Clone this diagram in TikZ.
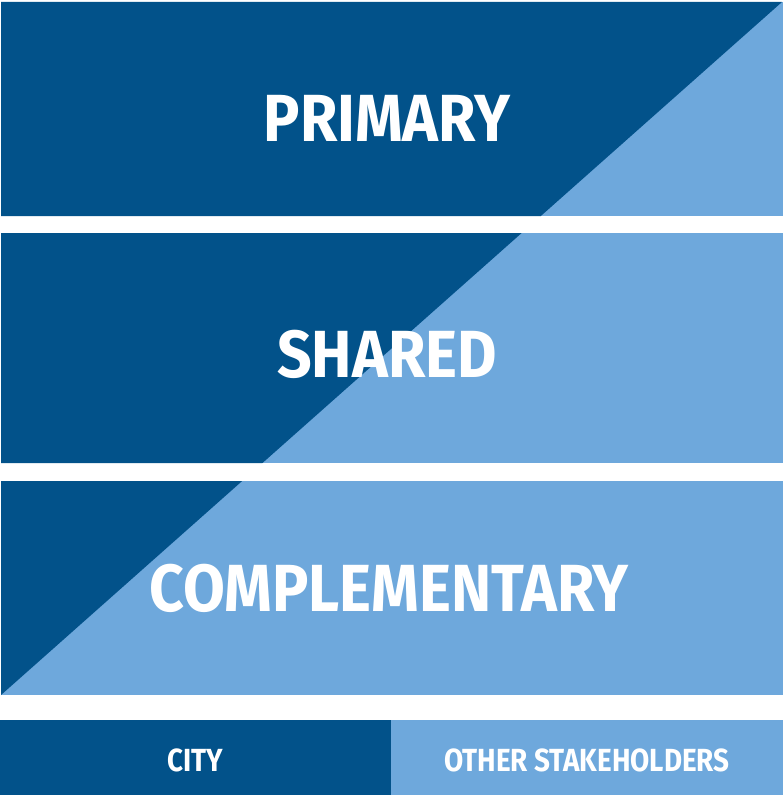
\documentclass[tikz,border=0pt]{standalone}
\usepackage{fontspec}
\setsansfont{Fira Sans}
\usetikzlibrary{positioning}
\definecolor{CityInk}{HTML}{02528A}
\definecolor{OtherInk}{HTML}{6EA8DC}

\begin{document}
\begin{tikzpicture}[x=0.75pt, y=-0.75pt, text=white,
  bandtitle/.style={font=\sffamily\bfseries\fontsize{50}{50}\selectfont, inner sep=0pt, xscale=0.91},
  legendtext/.style={font=\sffamily\bfseries\fontsize{24}{24}\selectfont, inner sep=0pt, xscale=0.87}]
\useasboundingbox (0,0) rectangle (783,795);
% three bands, light underneath
\fill[OtherInk] (1,2) rectangle (783,216);
\fill[OtherInk] (1,233) rectangle (783,463);
\fill[OtherInk] (1,481) rectangle (783,695);
% dark share cut by one diagonal through all bands
\begin{scope}
  \clip (1,2) rectangle (783,216) (1,233) rectangle (783,463) (1,481) rectangle (783,695);
  \fill[CityInk] (1,2) -- (782,2) -- (1,695) -- cycle;
\end{scope}
\node[bandtitle] (primary) at (387,118) {PRIMARY};
\node[bandtitle] (shared) at (387,354) {SHARED};
\node[bandtitle] (complementary) at (389,588) {COMPLEMENTARY};
% legend strip
\fill[CityInk] (0,720) rectangle (391,795);
\fill[OtherInk] (391,720) rectangle (783,795);
\node[legendtext] (city) at (195,760) {CITY};
\node[legendtext] (other) at (587,760) {OTHER STAKEHOLDERS};
\end{tikzpicture}
\end{document}
